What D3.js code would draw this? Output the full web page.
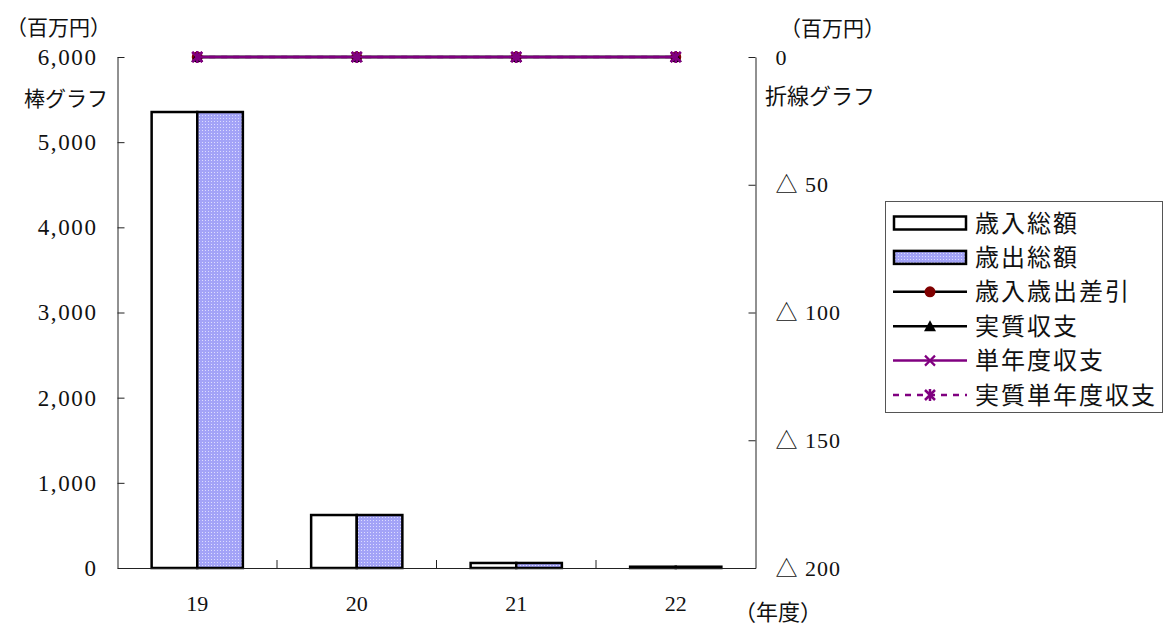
<!DOCTYPE html>
<html lang="ja">
<head>
<meta charset="utf-8">
<script src="https://cdn.jsdelivr.net/npm/d3@7"></script>
<style>
  html, body { margin: 0; padding: 0; background: #fff; }
  svg { display: block; }
  .num { font-family: "Liberation Serif", "Noto Sans CJK JP", serif; }
  .jp { font-family: "Noto Sans CJK JP", sans-serif; }
</style>
</head>
<body>
<svg id="chart" width="1164" height="629"></svg>
<script>
// Fiscal years (平成)
const years = ["19", "20", "21", "22"];
// Bar series (百万円)
const revenue = [5354, 622, 59, 15];      // 歳入総額
const expenditure = [5354, 622, 59, 15];  // 歳出総額
// Line series (百万円)
const balance = [0, 0, 0, 0];             // 歳入歳出差引
const realBalance = [0, 0, 0, 0];         // 実質収支
const singleYear = [0, 0, 0, 0];          // 単年度収支
const realSingleYear = [0, 0, 0, 0];      // 実質単年度収支
// Axis ticks
const leftTicks = [0, 1000, 2000, 3000, 4000, 5000, 6000];
const rightTicks = [0, -50, -100, -150, -200];

const barSeries = ["歳入総額", "歳出総額"];
const lineSeries = ["歳入歳出差引", "実質収支", "単年度収支", "実質単年度収支"];

const svg = d3.select("#chart");
const plot = { left: 117.5, right: 755.5, top: 57, bottom: 568 };

const defs = svg.append("defs");
const pat = defs.append("pattern")
  .attr("id", "dots").attr("patternUnits", "userSpaceOnUse")
  .attr("width", 3).attr("height", 3);
pat.append("rect").attr("width", 3).attr("height", 3).attr("fill", "#a3a3f7");
pat.append("rect").attr("x", 1).attr("y", 1).attr("width", 1).attr("height", 1).attr("fill", "#dcdcff");

const x = d3.scaleBand().domain(years).range([plot.left, plot.right]).padding(0);
const groupFrac = 0.572;
const yL = d3.scaleLinear().domain([0, 6000]).range([plot.bottom, plot.top]);
const yR = d3.scaleLinear().domain([-200, 0]).range([plot.bottom, plot.top]);

// Bars
const barFills = ["#ffffff", "url(#dots)"];
const barData = [revenue, expenditure];
years.forEach((yr, i) => {
  const gw = x.bandwidth() * groupFrac;
  const cx = x(yr) + x.bandwidth() / 2;
  const x1 = d3.scaleBand().domain(barSeries).range([cx - gw / 2, cx + gw / 2]);
  barSeries.forEach((s, j) => {
    const v = barData[j][i];
    svg.append("rect")
      .attr("x", x1(s)).attr("y", yL(v))
      .attr("width", x1.bandwidth()).attr("height", yL(0) - yL(v))
      .attr("fill", barFills[j]).attr("stroke", "#000").attr("stroke-width", 2.5);
  });
});

// Left axis
const fmt = d3.format(",");
const axL = svg.append("g").attr("transform", `translate(${plot.left},0)`)
  .call(d3.axisLeft(yL).tickValues(leftTicks).tickFormat(fmt).tickSizeInner(-7).tickSizeOuter(0).tickPadding(20));
axL.select(".domain").attr("stroke", "#222");
axL.selectAll(".tick line").attr("stroke", "#222");
axL.selectAll("text").attr("class", "num").attr("font-size", 23).attr("letter-spacing", 1.6).attr("fill", "#111");

// Right axis
const axR = svg.append("g").attr("transform", `translate(${plot.right},0)`)
  .call(d3.axisRight(yR).tickValues(rightTicks)
    .tickFormat(v => v === 0 ? "0" : "△ " + Math.abs(v))
    .tickSizeInner(-7).tickSizeOuter(0).tickPadding(20));
axR.select(".domain").attr("stroke", "#222");
axR.selectAll(".tick line").attr("stroke", "#222");
axR.selectAll("text").attr("class", "num").attr("font-size", 22).attr("letter-spacing", 1).attr("fill", "#111");

// Bottom axis
const axB = svg.append("g").attr("transform", `translate(0,${plot.bottom})`)
  .call(d3.axisBottom(x).tickSize(0).tickPadding(27));
axB.select(".domain").attr("stroke", "#222");
axB.selectAll("text").attr("class", "num").attr("font-size", 22).attr("fill", "#111");
years.slice(1).forEach(yr => {
  svg.append("line").attr("x1", x(yr)).attr("x2", x(yr))
    .attr("y1", plot.bottom).attr("y2", plot.bottom - 8).attr("stroke", "#222");
});

// Markers
function marker(g, kind, cx, cy) {
  if (kind === 0) {
    g.append("circle").attr("cx", cx).attr("cy", cy).attr("r", 5.5).attr("fill", "#800000");
  } else if (kind === 1) {
    g.append("path").attr("d", `M${cx},${cy - 6}L${cx + 6},${cy + 5}L${cx - 6},${cy + 5}Z`).attr("fill", "#000");
  } else if (kind === 2) {
    g.append("path").attr("d", `M${cx - 5},${cy - 5}L${cx + 5},${cy + 5}M${cx - 5},${cy + 5}L${cx + 5},${cy - 5}`)
      .attr("stroke", "#800080").attr("stroke-width", 2.2);
  } else {
    g.append("path").attr("d", `M${cx - 5},${cy - 5}L${cx + 5},${cy + 5}M${cx - 5},${cy + 5}L${cx + 5},${cy - 5}M${cx},${cy - 6}L${cx},${cy + 6}`)
      .attr("stroke", "#800080").attr("stroke-width", 2.5);
  }
}

// Lines
const lineData = [balance, realBalance, singleYear, realSingleYear];
const lineColors = ["#000", "#000", "#800080", "#800080"];
const lineDash = [null, null, null, "6,6"];
const lineGen = d3.line().x((d, i) => x(years[i]) + x.bandwidth() / 2).y(d => yR(d));
lineData.forEach((arr, k) => {
  const g = svg.append("g");
  g.append("path").datum(arr).attr("d", lineGen).attr("fill", "none")
    .attr("stroke", lineColors[k]).attr("stroke-width", 2.5).attr("stroke-dasharray", lineDash[k]);
  arr.forEach((v, i) => marker(g, k, x(years[i]) + x.bandwidth() / 2, yR(v)));
});

// Axis captions
svg.append("text").attr("class", "jp").attr("x", 6).attr("y", 35).attr("font-size", 21).attr("fill", "#111").text("（百万円）");
svg.append("text").attr("class", "jp").attr("x", 24).attr("y", 106).attr("font-size", 21).attr("fill", "#111").text("棒グラフ");
svg.append("text").attr("class", "jp").attr("x", 780).attr("y", 36).attr("font-size", 21).attr("fill", "#111").text("（百万円）");
svg.append("text").attr("class", "jp").attr("x", 765).attr("y", 104).attr("font-size", 22).attr("fill", "#111").text("折線グラフ");
svg.append("text").attr("class", "jp").attr("x", 734).attr("y", 620).attr("font-size", 22).attr("fill", "#111").text("（年度）");

// Legend
const lg = svg.append("g");
lg.append("rect").attr("x", 885.5).attr("y", 201.5).attr("width", 277).attr("height", 211)
  .attr("fill", "#fff").attr("stroke", "#555");
const rowY = d3.scaleLinear().domain([0, 5]).range([223, 395]);
const legendItems = barSeries.concat(lineSeries);
legendItems.forEach((name, i) => {
  const cy = rowY(i);
  if (i < 2) {
    lg.append("rect").attr("x", 894).attr("y", cy - 6.5).attr("width", 72).attr("height", 13)
      .attr("fill", barFills[i]).attr("stroke", "#000").attr("stroke-width", 2.5);
  } else {
    const k = i - 2;
    lg.append("line").attr("x1", 893).attr("x2", 967).attr("y1", cy).attr("y2", cy)
      .attr("stroke", lineColors[k]).attr("stroke-width", 2.5).attr("stroke-dasharray", lineDash[k]);
    marker(lg, k, 930, cy);
  }
  lg.append("text").attr("class", "jp").attr("x", 975).attr("y", cy).attr("dy", "0.36em")
    .attr("font-size", 24).attr("letter-spacing", 2).attr("fill", "#111").text(name);
});
</script>
</body>
</html>
